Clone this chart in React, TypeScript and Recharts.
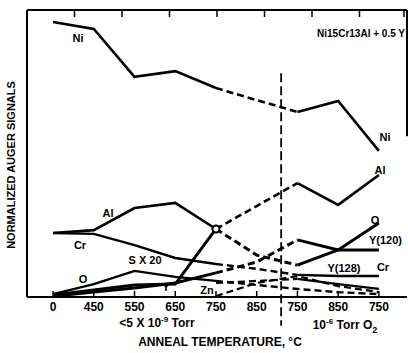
import React from 'react';
import { LineChart, Line, XAxis, YAxis, ReferenceLine, ReferenceDot } from 'recharts';

// anneal steps: vacuum (<5e-9 Torr) then 1e-6 Torr O2
const temps = ['0', '450', '550', '650', '750', '850', '750', '850', '750'];

// normalized Auger signals (0-100 scale)
const ni = [95.8, 93.4, 76.7, 78.7, 72.8, 68.6, 64.5, 68.3, 50.9];
const al = [22.3, 23.3, 31.0, 32.8, 23.7, 31.7, 39.7, 32.1, 42.5];
const cr = [22.3, 22.0, 18.1, 13.6, 11.5, 9.8, 7.7, 7.3, 7.3];
const oxy = [0.7, 2.4, 4.2, 4.5, 23.7, 14.6, 11.1, 16.4, 25.8];
const y120 = [0.3, 1.7, 3.1, 4.9, 8.4, 12.2, 19.9, 16.4, 16.4];
const y128 = [null, null, null, null, 4.9, 5.6, 6.3, 4.5, 2.8];
const s20 = [1.0, 4.5, 9.1, 7.0, 5.6, 4.2, 2.8, 1.7, 1.0];
const zn = [null, null, null, null, 0.3, 4.9, 7.3, 3.8, 1.7];

type Seg = [number, number, boolean];
const stdSegs: Seg[] = [[0, 4, false], [4, 6, true], [6, 8, false]];

const series: { name: string; values: (number | null)[]; segs: Seg[]; width: number }[] = [
  { name: 'ni', values: ni, segs: stdSegs, width: 2.6 },
  { name: 'al', values: al, segs: stdSegs, width: 2.6 },
  { name: 'cr', values: cr, segs: stdSegs, width: 2.4 },
  { name: 'oxy', values: oxy, segs: stdSegs, width: 3 },
  { name: 'y120', values: y120, segs: stdSegs, width: 3 },
  { name: 'y128', values: y128, segs: [[4, 6, true], [6, 8, false]], width: 2.2 },
  { name: 's20', values: s20, segs: [[0, 4, false], [4, 8, true]], width: 2.4 },
  { name: 'zn', values: zn, segs: [[4, 8, true]], width: 2.2 },
];

const rows = temps.map((t, i) => {
  const row: Record<string, number | null> = { x: i };
  series.forEach((s) => {
    s.segs.forEach(([a, b], k) => {
      row[`${s.name}_${k}`] = i >= a && i <= b ? s.values[i] : null;
    });
  });
  return row;
});

const xMin = -0.64;
const xMax = 8.69;
const boundary = 5.6;
const font = '"Liberation Sans", Arial, sans-serif';

const BottomTick = (props: any) => {
  const { x, y, payload } = props;
  return (
    <g>
      <line x1={x} x2={x} y1={y - 6} y2={y} stroke="#000" strokeWidth={1.5} />
      <text x={x} y={y + 14} textAnchor="middle" fontSize={12} fontWeight="bold" fontFamily={font} fill="#000">
        {temps[payload.value]}
      </text>
    </g>
  );
};

const TopTick = (props: any) => {
  const { x, y } = props;
  return <line x1={x} x2={x} y1={y} y2={y + 7} stroke="#000" strokeWidth={1.5} />;
};

const labels: [string, number, number, string?][] = [
  ['Ni', 78, 42],
  ['Ni', 385, 141],
  ['Al', 380, 174],
  ['Al', 108, 217],
  ['Cr', 80, 249],
  ['Cr', 383, 271],
  ['O', 83, 283],
  ['O', 375, 224],
  ['S X 20', 145, 264],
  ['Y', 166, 291],
  ['Zn', 207, 294],
  ['Y(128)', 344, 272],
];

export default function App() {
  return (
    <div style={{ position: 'absolute', left: 0, top: 0, width: 408, height: 353, background: '#fff' }}>
      <LineChart width={408} height={353} data={rows} margin={{ top: 0, right: 1, bottom: 0, left: 0 }}>
        <XAxis
          type="number"
          dataKey="x"
          domain={[xMin, xMax]}
          ticks={[0, 1, 2, 3, 4, 5, 6, 7, 8]}
          height={56}
          tickSize={0}
          tickMargin={0}
          tick={<BottomTick />}
          axisLine={{ stroke: '#000', strokeWidth: 2 }}
          tickLine={false}
        />
        <XAxis
          xAxisId="top"
          orientation="top"
          type="number"
          domain={[xMin, xMax]}
          ticks={[0, 1, 2, 3, 4, 5, 6, 7, 8]}
          height={10}
          tickSize={0}
          tickMargin={0}
          tick={<TopTick />}
          axisLine={{ stroke: '#000', strokeWidth: 2 }}
          tickLine={false}
        />
        <YAxis
          domain={[0, 100]}
          width={27}
          tick={false}
          tickLine={false}
          axisLine={{ stroke: '#000', strokeWidth: 2 }}
        />
        <ReferenceLine
          segment={[{ x: xMax, y: 100 }, { x: xMax, y: 56 }]}
          stroke="#000"
          strokeWidth={2}
          ifOverflow="visible"
        />
        <ReferenceLine
          segment={[{ x: boundary, y: 78 }, { x: boundary, y: -10 }]}
          stroke="#000"
          strokeWidth={1.8}
          strokeDasharray="9 4"
          ifOverflow="visible"
        />
        {series.flatMap((s) =>
          s.segs.map(([, , dashed], k) => (
            <Line
              key={`${s.name}_${k}`}
              type="linear"
              dataKey={`${s.name}_${k}`}
              stroke="#000"
              strokeWidth={s.width}
              strokeDasharray={dashed ? '7 4' : undefined}
              dot={false}
              activeDot={false}
              connectNulls={false}
              isAnimationActive={false}
            />
          ))
        )}
        <ReferenceDot x={4} y={al[4]} r={3.5} fill="#fff" stroke="#000" strokeWidth={2} ifOverflow="visible" />
      </LineChart>
      <svg
        width={408}
        height={353}
        style={{ position: 'absolute', left: 0, top: 0, pointerEvents: 'none' }}
        fontFamily={font}
        fontWeight="bold"
      >
        {labels.map(([t, x, y], i) => (
          <text key={i} x={x} y={y} textAnchor="middle" fontSize={11} fill="#000">
            {t}
          </text>
        ))}
        <text x={369} y={244} fontSize={11} fill="#000">Y(120)</text>
        <text x={405} y={37} textAnchor="end" fontSize={10} fill="#000">Ni15Cr13Al + 0.5 Y</text>
        <text
          x={15}
          y={165}
          transform="rotate(-90 15 165)"
          textAnchor="middle"
          fontSize={11}
          fill="#000"
        >
          NORMALIZED AUGER SIGNALS
        </text>
        <text x={157} y={327} textAnchor="middle" fontSize={12} fill="#000">
          {'<5 X 10'}
          <tspan dy={-5} fontSize={8}>-9</tspan>
          <tspan dy={5}> Torr</tspan>
        </text>
        <text x={345} y={329} textAnchor="middle" fontSize={12} fill="#000">
          {'10'}
          <tspan dy={-5} fontSize={8}>-6</tspan>
          <tspan dy={5}> Torr O</tspan>
          <tspan dy={4} fontSize={9}>2</tspan>
        </text>
        <text x={220} y={346} textAnchor="middle" fontSize={12} fill="#000">
          ANNEAL TEMPERATURE, °C
        </text>
      </svg>
    </div>
  );
}
